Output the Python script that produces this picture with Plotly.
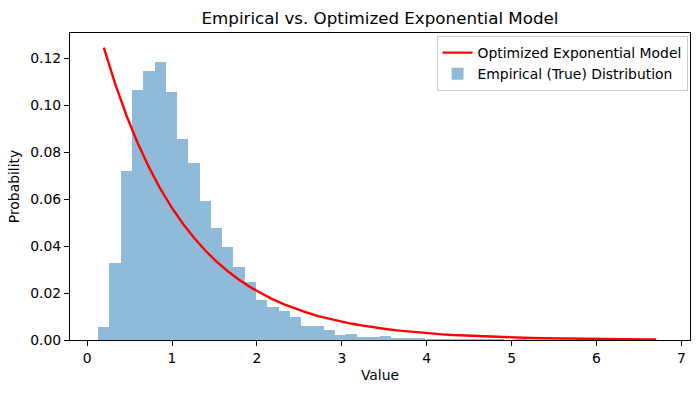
import numpy as np
import plotly.graph_objects as go

# Histogram bins (50 equal bins from data min to data max)
bin_lo = 0.13
bin_hi = 6.77
n_bins = 50

# Empirical (true) distribution: probability per bin
empirical_prob = [
    0.0056, 0.0327, 0.0721, 0.1064, 0.1145, 0.1183, 0.1056, 0.0854, 0.0755, 0.0594,
    0.0475, 0.0394, 0.0310, 0.0246, 0.0170, 0.0141, 0.0123, 0.0099, 0.0059, 0.0059,
    0.0042, 0.0020, 0.0025, 0.0013, 0.0013, 0.0017, 0.0008, 0.0008, 0.0008, 0.0004,
    0.0003, 0.0003, 0.0003, 0.0003, 0.0003, 0.0003, 0.0002, 0.0003, 0.0001, 0.0001,
    0.0001, 0.0001, 0.0001, 0.0001, 0.0001, 0.0000, 0.0001, 0.0000, 0.0000, 0.0001,
]

# Optimized exponential model evaluated at bin centres
model_prob = [
    0.1245, 0.1092, 0.0957, 0.0839, 0.0736, 0.0645, 0.0566, 0.0496, 0.0435, 0.0381,
    0.0334, 0.0293, 0.0257, 0.0225, 0.0198, 0.0173, 0.0152, 0.0133, 0.0117, 0.0102,
    0.0090, 0.0079, 0.0069, 0.0061, 0.0053, 0.0047, 0.0041, 0.0036, 0.0031, 0.0028,
    0.0024, 0.0021, 0.0019, 0.0016, 0.0014, 0.0013, 0.0011, 0.0010, 0.00085, 0.00075,
    0.00066, 0.00058, 0.00050, 0.00044, 0.00039, 0.00034, 0.00030, 0.00026, 0.00023, 0.00020,
]

x_ticks = [0, 1, 2, 3, 4, 5, 6, 7]
y_ticks = [0.00, 0.02, 0.04, 0.06, 0.08, 0.10, 0.12]

edges = np.linspace(bin_lo, bin_hi, n_bins + 1)
centers = (edges[:-1] + edges[1:]) / 2
width = edges[1] - edges[0]

FONT = "DejaVu Sans"
FS = 13.9

fig = go.Figure()
fig.add_trace(go.Bar(
    x=centers, y=empirical_prob, width=width,
    marker=dict(color="rgba(31,119,180,0.5)", line=dict(width=0)),
    name="Empirical (True) Distribution", legendrank=2, legendgroup="b",
))
fig.add_trace(go.Scatter(
    x=centers, y=model_prob, mode="lines",
    line=dict(color="red", width=2.4),
    name="Optimized Exponential Model", legendrank=1, legendgroup="a",
))

axis_common = dict(
    showline=True, linecolor="black", linewidth=1, mirror=True,
    ticks="outside", ticklen=5, tickwidth=1, tickcolor="black",
    showgrid=False, zeroline=False,
    tickfont=dict(family=FONT, size=FS, color="black"),
)

xr0 = bin_lo - 0.05 * (bin_hi - bin_lo)
xr1 = bin_hi + 0.05 * (bin_hi - bin_lo)
ymax = max(max(model_prob), max(empirical_prob)) * 1.05

fig.update_layout(
    width=700, height=393,
    margin=dict(l=70, r=10, t=33, b=53),
    paper_bgcolor="white", plot_bgcolor="white",
    font=dict(family=FONT, color="black"),
    title=dict(text="Empirical vs. Optimized Exponential Model",
               x=(70 + 690) / 2 / 700, xanchor="center", y=1 - 18 / 393, yanchor="middle",
               font=dict(family=FONT, size=16.7, color="black")),
    xaxis=dict(range=[xr0, xr1], tickvals=x_ticks,
               title=dict(text="Value", font=dict(family=FONT, size=FS), standoff=5),
               **axis_common),
    yaxis=dict(range=[0, ymax], tickvals=y_ticks, tickformat=".2f",
               title=dict(text="Probability", font=dict(family=FONT, size=FS), standoff=7),
               **axis_common),
    legend=dict(x=0.996, y=0.99, xanchor="right", yanchor="top",
                bgcolor="rgba(255,255,255,0.8)", bordercolor="#cccccc", borderwidth=1,
                font=dict(family=FONT, size=FS, color="black"),
                tracegroupgap=0, itemwidth=30),
    showlegend=True,
    bargap=0,
)

fig.write_html("out.html", config={"displayModeBar": False},
               post_script="document.body.style.margin='0';")
